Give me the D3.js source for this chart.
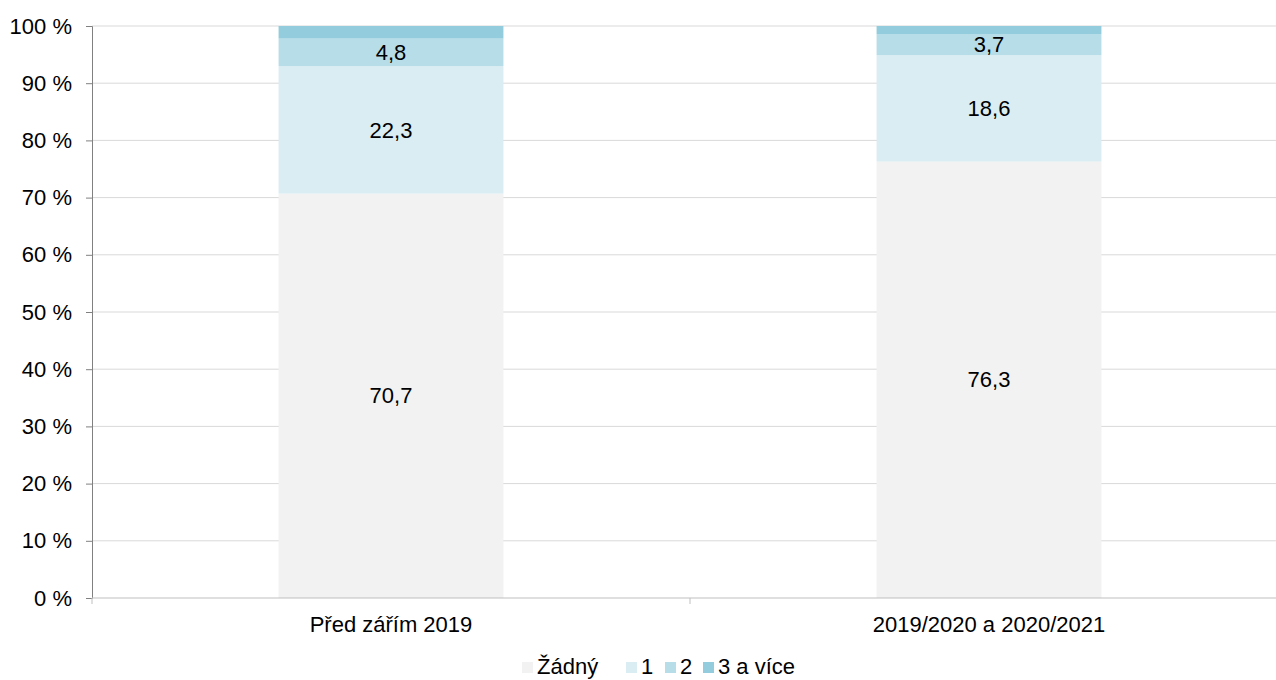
<!DOCTYPE html>
<html lang="cs">
<head>
<meta charset="utf-8">
<title>Podíl</title>
<style>
  body { margin: 0; background: #fff; }
  text { font-family: "Liberation Sans", Arial, sans-serif; }
</style>
</head>
<body>
<script src="https://d3js.org/d3.v7.min.js"></script>
<div id="chart"></div>
<script>
var categories = ["Před zářím 2019", "2019/2020 a 2020/2021"];
var seriesNames = ["Žádný", "1", "2", "3 a více"];
var zadny = [70.7, 76.3];
var jeden = [22.3, 18.6];
var dva = [4.8, 3.7];
var triAVice = [2.2, 1.4];
var yTicks = [0, 10, 20, 30, 40, 50, 60, 70, 80, 90, 100];
var colors = ["#f2f2f2", "#daedf3", "#b7dde8", "#93cddd"];

var W = 1276, H = 680;
var margin = {top: 26, left: 92, bottom: 82};
var fs = "22px";
var svg = d3.select("#chart").append("svg")
  .attr("width", W).attr("height", H);

var rows = categories.map(function(c, i) {
  return {cat: c, "Žádný": zadny[i], "1": jeden[i], "2": dva[i], "3 a více": triAVice[i]};
});
var stacked = d3.stack().keys(seriesNames)(rows);

var x = d3.scaleBand().domain(categories)
  .range([margin.left, margin.left + 598 * 2])
  .paddingInner(0.624).paddingOuter(0.312);
var y = d3.scaleLinear().domain([0, 100]).range([H - margin.bottom, margin.top]);

// gridlines
svg.append("g").selectAll("line").data(yTicks.filter(function(t){ return t > 0; }))
  .enter().append("line")
  .attr("x1", margin.left).attr("x2", W)
  .attr("y1", function(d){ return y(d); }).attr("y2", function(d){ return y(d); })
  .attr("stroke", "#d9d9d9").attr("stroke-width", 1);

// bars
var layers = svg.append("g").selectAll("g").data(stacked).enter().append("g")
  .attr("fill", function(d, i){ return colors[i]; });
layers.selectAll("rect").data(function(d){ return d; }).enter().append("rect")
  .attr("x", function(d){ return x(d.data.cat); })
  .attr("width", x.bandwidth())
  .attr("y", function(d){ return y(d[1]); })
  .attr("height", function(d){ return y(d[0]) - y(d[1]); });

// value labels (not for the top series)
stacked.slice(0, 3).forEach(function(s) {
  svg.append("g").selectAll("text").data(s).enter().append("text")
    .attr("x", function(d){ return x(d.data.cat) + x.bandwidth() / 2; })
    .attr("y", function(d){ return (y(d[0]) + y(d[1])) / 2; })
    .attr("dy", "0.35em")
    .attr("text-anchor", "middle")
    .attr("font-size", fs)
    .attr("fill", "#000")
    .text(function(d){ return d3.format(".1f")(d[1] - d[0]).replace(".", ","); });
});

// y axis
var yAxis = svg.append("g").attr("transform", "translate(" + margin.left + ",0)")
  .call(d3.axisLeft(y).tickValues(yTicks).tickSize(6).tickPadding(14)
    .tickFormat(function(d){ return d + " %"; }));
yAxis.select(".domain").attr("stroke", "#808080");
yAxis.selectAll(".tick line").attr("stroke", "#808080");
yAxis.selectAll(".tick text").attr("font-size", fs).attr("fill", "#000")
  .style("font-family", "'Liberation Sans', Arial, sans-serif");

// x axis
var y0 = y(0);
svg.append("line").attr("x1", margin.left).attr("x2", W)
  .attr("y1", y0).attr("y2", y0).attr("stroke", "#bfbfbf");
var bounds = [margin.left, margin.left + 598];
svg.append("g").selectAll("line").data(bounds).enter().append("line")
  .attr("x1", function(d){ return d; }).attr("x2", function(d){ return d; })
  .attr("y1", y0).attr("y2", y0 + 6).attr("stroke", "#bfbfbf");
svg.append("g").selectAll("text").data(categories).enter().append("text")
  .attr("x", function(d){ return x(d) + x.bandwidth() / 2; })
  .attr("y", y0 + 34)
  .attr("text-anchor", "middle").attr("font-size", fs).attr("fill", "#000")
  .text(function(d){ return d; });

// legend
var legendX = [522, 626, 665, 703];
var lg = svg.append("g").selectAll("g").data(seriesNames).enter().append("g")
  .attr("transform", function(d, i){ return "translate(" + legendX[i] + "," + 674 + ")"; });
lg.append("rect").attr("x", 0).attr("y", -12).attr("width", 11).attr("height", 11)
  .attr("fill", function(d, i){ return colors[i]; });
lg.append("text").attr("x", 15).attr("y", 0)
  .attr("font-size", fs).attr("fill", "#000")
  .text(function(d){ return d; });
</script>
</body>
</html>
